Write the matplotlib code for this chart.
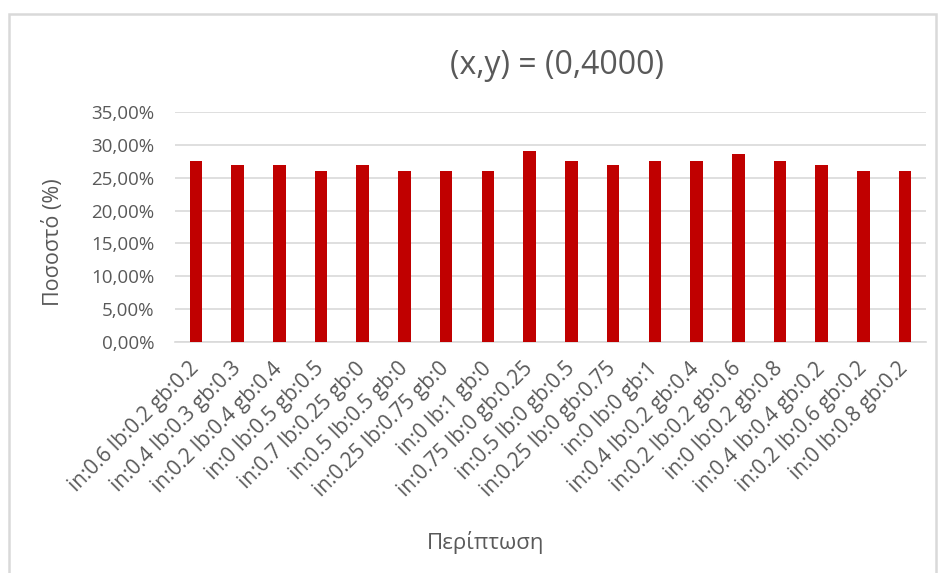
import matplotlib.pyplot as plt
from matplotlib.patches import Rectangle
from matplotlib.ticker import FuncFormatter

# Περιπτώσεις (in / lb / gb) και ποσοστά
cases = ['in:0.6 lb:0.2 gb:0.2', 'in:0.4 lb:0.3 gb:0.3', 'in:0.2 lb:0.4 gb:0.4',
         'in:0 lb:0.5 gb:0.5', 'in:0.7 lb:0.25 gb:0', 'in:0.5 lb:0.5 gb:0',
         'in:0.25 lb:0.75 gb:0', 'in:0 lb:1 gb:0', 'in:0.75 lb:0 gb:0.25',
         'in:0.5 lb:0 gb:0.5', 'in:0.25 lb:0 gb:0.75', 'in:0 lb:0 gb:1',
         'in:0.4 lb:0.2 gb:0.4', 'in:0.2 lb:0.2 gb:0.6', 'in:0 lb:0.2 gb:0.8',
         'in:0.4 lb:0.4 gb:0.2', 'in:0.2 lb:0.6 gb:0.2', 'in:0 lb:0.8 gb:0.2']
values = [27.55, 27.0, 27.0, 26.09, 27.0, 26.09, 26.09, 26.09, 29.09,
          27.53, 26.97, 27.53, 27.53, 28.54, 27.53, 26.97, 26.06, 26.06]
yticks = [0, 5, 10, 15, 20, 25, 30, 35]

plt.rcParams['font.family'] = ['Open Sans', 'DejaVu Sans']
grey = '#595959'

fig = plt.figure(figsize=(9.39, 5.73), dpi=100)
ax = fig.add_axes([175/939, 1-342/573, 751/939, 230/573])

x = range(len(cases))
ax.bar(x, values, width=0.3, color='#C00000', zorder=3)

ax.set_xlim(-0.5, len(cases)-0.5)
ax.set_ylim(0, 35)
ax.set_yticks(yticks)
ax.yaxis.set_major_formatter(FuncFormatter(lambda v, p: ('%.2f%%' % v).replace('.', ',')))
ax.grid(axis='y', color='#D9D9D9', linewidth=1.2, zorder=0)
ax.set_xticks(list(x))
ax.set_xticklabels(cases, rotation=45, ha='right', va='center', rotation_mode='anchor')
ax.tick_params(axis='y', length=0, labelsize=13.5, colors=grey, pad=15)
ax.tick_params(axis='x', length=0, labelsize=15, colors=grey, pad=17)
for s in ['top', 'right', 'left']:
    ax.spines[s].set_visible(False)
ax.spines['bottom'].set_color('#D9D9D9')
ax.spines['bottom'].set_linewidth(1.2)

fig.text(557/939, 1-65/573, '(x,y) = (0,4000)', ha='center', va='center', fontsize=23, color=grey)
fig.text(53/939, 1-242/573, 'Ποσοστό (%)', ha='center', va='center', rotation=90, fontsize=15.5, color=grey)
fig.text(486/939, 1-543/573, 'Περίπτωση', ha='center', va='center', fontsize=16, color=grey)

fig.patches.append(Rectangle((9/939, -0.05), 927/939, 1.05-14/573, transform=fig.transFigure,
                             fill=False, edgecolor='#D9D9D9', linewidth=1.8))

fig.savefig('out.png', dpi=100)
